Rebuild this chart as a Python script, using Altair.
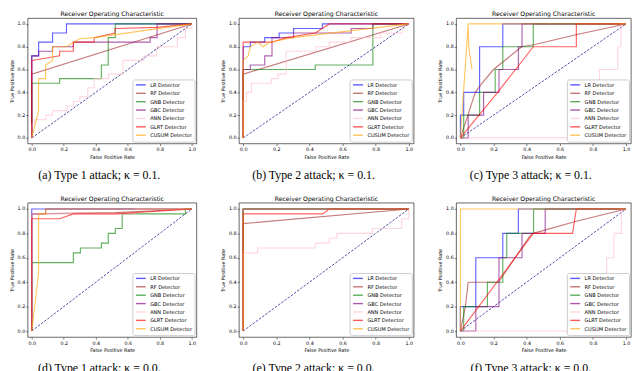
import altair as alt
import pandas as pd

DETECTORS = ["LR Detector", "RF Detector", "GNB Detector", "GBC Detector",
             "ANN Detector", "GLRT Detector", "CUSUM Detector"]
COLORS = ["blue", "brown", "green", "purple", "pink", "red", "orange"]
TICKS = [0.0, 0.2, 0.4, 0.6, 0.8, 1.0]
TITLE = "Receiver Operating Characteristic"
CAPTIONS = ["(a) Type 1 attack; κ = 0.1.", "(b) Type 2 attack; κ = 0.1.",
            "(c) Type 3 attack; κ = 0.1.", "(d) Type 1 attack; κ = 0.0.",
            "(e) Type 2 attack; κ = 0.0.", "(f) Type 3 attack; κ = 0.0."]
DIAG_X = [0.0, 1.0]
DIAG_Y = [0.0, 1.0]

PANEL_A = {
    "LR Detector": ([0, 0, 0.043, 0.043, 0.13, 0.13, 0.217, 0.217, 1],
                    [0, 0.72, 0.72, 0.84, 0.84, 0.92, 0.92, 1, 1]),
    "RF Detector": ([0, 0, 1], [0, 0.56, 1]),
    "GNB Detector": ([0, 0, 0.174, 0.174, 0.435, 0.435, 0.478, 0.478, 0.522, 0.522, 1],
                     [0, 0.48, 0.48, 0.52, 0.52, 0.64, 0.64, 0.88, 0.88, 1, 1]),
    "GBC Detector": ([0, 0, 0.043, 0.043, 0.13, 0.13, 0.26, 0.26, 0.74, 0.74, 0.783, 0.783, 1],
                     [0, 0.72, 0.72, 0.76, 0.76, 0.8, 0.8, 0.84, 0.84, 0.88, 0.88, 1, 1]),
    "ANN Detector": ([0, 0, 0.02, 0.02, 0.09, 0.09, 0.13, 0.13, 0.22, 0.22, 0.26, 0.26, 0.3, 0.3,
                      0.35, 0.35, 0.39, 0.39, 0.48, 0.48, 0.57, 0.57, 0.7, 0.7, 0.78, 0.78,
                      0.91, 0.91, 0.96, 0.96, 1, 1],
                     [0, 0.12, 0.12, 0.16, 0.16, 0.2, 0.2, 0.24, 0.24, 0.28, 0.28, 0.32, 0.32, 0.36,
                      0.36, 0.44, 0.44, 0.52, 0.52, 0.56, 0.56, 0.68, 0.68, 0.72, 0.72, 0.8,
                      0.8, 0.88, 0.88, 0.96, 0.96, 1]),
    "GLRT Detector": ([0, 0, 0.13, 0.174, 0.174, 0.26, 0.26, 0.39, 0.39, 0.52, 0.52, 0.78, 1],
                      [0, 0.68, 0.71, 0.72, 0.76, 0.76, 0.84, 0.84, 0.88, 0.92, 0.96, 0.97, 1]),
    "CUSUM Detector": ([0, 0.043, 0.043, 0.087, 0.087, 0.13, 0.13, 0.217, 0.26, 0.3, 0.39, 1],
                       [0, 0.24, 0.52, 0.52, 0.64, 0.68, 0.8, 0.8, 0.84, 0.87, 0.88, 1]),
}

PANEL_B = {
    "LR Detector": ([0, 0, 0.043, 0.043, 0.13, 0.13, 0.217, 0.217, 0.304, 0.304, 0.478, 0.478, 1],
                    [0, 0.8, 0.8, 0.84, 0.84, 0.88, 0.88, 0.92, 0.92, 0.96, 0.96, 1, 1]),
    "RF Detector": ([0, 0, 1], [0, 0.56, 1]),
    "GNB Detector": ([0, 0, 0.435, 0.435, 0.783, 0.783, 1],
                     [0, 0.6, 0.6, 0.64, 0.64, 1, 1]),
    "GBC Detector": ([0, 0, 0.043, 0.043, 0.13, 0.13, 0.174, 0.174, 0.304, 0.304, 0.652, 0.652,
                      0.783, 0.783, 1],
                     [0, 0.6, 0.6, 0.64, 0.64, 0.72, 0.72, 0.88, 0.88, 0.92, 0.92, 0.96,
                      0.96, 1, 1]),
    "ANN Detector": ([0, 0, 0.02, 0.02, 0.05, 0.05, 0.17, 0.17, 0.21, 0.21, 0.26, 0.26, 0.44,
                      0.44, 0.52, 0.52, 0.65, 0.65, 0.83, 0.83, 0.96, 0.96, 1],
                     [0, 0.32, 0.32, 0.4, 0.4, 0.48, 0.48, 0.52, 0.52, 0.56, 0.56, 0.76, 0.76,
                      0.8, 0.8, 0.84, 0.84, 0.88, 0.88, 0.92, 0.92, 1, 1]),
    "GLRT Detector": ([0, 0, 0.174, 0.26, 0.435, 0.52, 1],
                      [0, 0.84, 0.84, 0.88, 0.92, 1, 1]),
    "CUSUM Detector": ([0, 0, 0.03, 0.043, 0.087, 0.12, 0.16, 0.3, 1],
                       [0, 0.68, 0.72, 0.8, 0.84, 0.8, 0.84, 0.88, 1]),
}

PANEL_C = {
    "LR Detector": ([0, 0, 0.02, 0.02, 0.116, 0.116, 0.256, 0.256, 1],
                    [0, 0.2, 0.2, 0.4, 0.4, 0.8, 0.8, 1, 1]),
    "RF Detector": ([0, 0.045, 0.09, 0.125, 0.2, 0.37, 0.45, 0.71, 1],
                    [0, 0.2, 0.4, 0.47, 0.6, 0.8, 0.82, 0.91, 1]),
    "GNB Detector": ([0, 0.02, 0.02, 0.116, 0.116, 0.21, 0.21, 0.256, 0.256, 0.44, 0.44, 1],
                     [0, 0, 0.2, 0.2, 0.4, 0.4, 0.6, 0.6, 0.8, 0.8, 1, 1]),
    "GBC Detector": ([0, 0.047, 0.047, 0.14, 0.14, 0.233, 0.233, 0.35, 0.35, 0.372, 0.372, 1],
                     [0, 0, 0.2, 0.2, 0.4, 0.4, 0.6, 0.6, 0.8, 0.8, 1, 1]),
    "ANN Detector": ([0, 0.84, 0.84, 0.95, 0.95, 0.97, 0.97, 1],
                     [0, 0, 0.6, 0.6, 0.8, 0.8, 1, 1]),
    "GLRT Detector": ([0, 0.225, 0.44, 0.7, 0.7, 1],
                      [0, 0.4, 0.8, 0.8, 1, 1]),
    "CUSUM Detector": ([0, 0.047, 0.05, 0.07, 0.05, 0.047, 1],
                       [0, 1, 0.8, 0.6, 0.8, 1, 1]),
}

PANEL_D = {
    "LR Detector": ([0, 0, 1], [0, 1, 1]),
    "RF Detector": ([0, 0, 0.52, 1], [0, 0.96, 0.97, 1]),
    "GNB Detector": ([0, 0, 0.26, 0.26, 0.304, 0.304, 0.435, 0.435, 0.478, 0.478, 0.522, 0.522,
                      0.565, 0.565, 0.96, 0.96, 1],
                     [0, 0.56, 0.56, 0.64, 0.64, 0.68, 0.68, 0.72, 0.72, 0.8, 0.8, 0.84,
                      0.84, 0.96, 0.96, 1, 1]),
    "GBC Detector": ([0, 0, 0.087, 0.087, 1], [0, 0.96, 0.96, 1, 1]),
    "ANN Detector": ([0, 0, 0.65, 0.65, 1], [0, 0.96, 0.96, 1, 1]),
    "GLRT Detector": ([0, 0, 0.174, 0.26, 0.52, 1], [0, 0.92, 0.92, 0.96, 0.96, 1]),
    "CUSUM Detector": ([0, 0.043, 0.043, 0.087, 0.087, 1], [0, 0.48, 0.96, 0.96, 1, 1]),
}

PANEL_E = {
    "LR Detector": ([0, 0, 1], [0, 1, 1]),
    "RF Detector": ([0, 0, 1], [0, 0.88, 1]),
    "GNB Detector": ([0, 0, 1], [0, 1, 1]),
    "GBC Detector": ([0, 0, 1], [0, 1, 1]),
    "ANN Detector": ([0, 0, 0.087, 0.087, 0.435, 0.435, 0.52, 0.52, 0.565, 0.565, 0.78, 0.78,
                      0.957, 0.957, 1, 1],
                     [0, 0.64, 0.64, 0.68, 0.68, 0.72, 0.72, 0.76, 0.76, 0.8, 0.8, 0.84,
                      0.84, 0.92, 0.92, 1]),
    "GLRT Detector": ([0, 0, 0.48, 0.52, 1], [0, 0.96, 0.96, 1, 1]),
    "CUSUM Detector": ([0, 0, 1], [0, 1, 1]),
}

PANEL_F = {
    "LR Detector": ([0, 0, 0.093, 0.093, 0.256, 0.256, 0.35, 0.35, 1],
                    [0, 0.2, 0.2, 0.6, 0.6, 0.8, 0.8, 1, 1]),
    "RF Detector": ([0, 0.03, 0.047, 0.23, 0.42, 0.44, 0.7, 1],
                    [0, 0.2, 0.4, 0.4, 0.78, 0.8, 0.9, 1]),
    "GNB Detector": ([0, 0.02, 0.02, 0.163, 0.163, 0.256, 0.256, 0.28, 0.28, 0.442, 0.442, 1],
                     [0, 0, 0.2, 0.2, 0.4, 0.4, 0.6, 0.6, 0.8, 0.8, 1, 1]),
    "GBC Detector": ([0, 0.093, 0.093, 0.233, 0.233, 0.372, 0.372, 0.512, 0.512, 1],
                     [0, 0, 0.2, 0.2, 0.6, 0.6, 0.8, 0.8, 1, 1]),
    "ANN Detector": ([0, 0.883, 0.883, 0.927, 0.927, 0.972, 0.972, 1],
                     [0, 0, 0.6, 0.6, 0.8, 0.8, 1, 1]),
    "GLRT Detector": ([0, 0.44, 0.677, 0.7, 1], [0, 0.8, 0.8, 1, 1]),
    "CUSUM Detector": ([0, 0, 1], [0, 1, 1]),
}

FONT = "DejaVu Sans"


def panel(curves, caption, w, h):
    rows = []
    for det in DETECTORS:
        xs, ys = curves[det]
        for i, (x, y) in enumerate(zip(xs, ys)):
            rows.append({"det": det, "fpr": x, "tpr": y, "i": i})
    df = pd.DataFrame(rows)
    xsc = alt.Scale(domain=[-0.025, 1.03], nice=False, zero=False)
    ysc = alt.Scale(domain=[-0.05, 1.05], nice=False, zero=False)
    xax = alt.Axis(title="False Positive Rate", values=TICKS, format=".1f")
    yax = alt.Axis(title="True Positive Rate", values=TICKS, format=".1f")
    xenc = alt.X("fpr:Q", scale=xsc, axis=xax)
    yenc = alt.Y("tpr:Q", scale=ysc, axis=yax)
    diag = alt.Chart(pd.DataFrame({"fpr": DIAG_X, "tpr": DIAG_Y})).mark_line(
        color="navy", strokeDash=[2.5, 1.5], strokeWidth=0.7).encode(x=xenc, y=yenc)
    legend = alt.Legend(
        title=None, orient="bottom-right", offset=2, padding=2.5,
        symbolType="stroke", symbolSize=100, symbolStrokeWidth=1.4,
        symbolOpacity=0.65, labelFontSize=5.1, labelFont=FONT, labelColor="black",
        labelOffset=3.5, rowPadding=1.5, clipHeight=6, fillColor="white",
        strokeColor="#cccccc", cornerRadius=2)
    layers = [diag]
    for det in DETECTORS:
        layers.append(
            alt.Chart(df).transform_filter(alt.datum.det == det).mark_line(
                strokeWidth=1.15, opacity=0.62).encode(
                x=xenc, y=yenc,
                color=alt.Color("det:N", scale=alt.Scale(domain=DETECTORS, range=COLORS),
                                legend=legend),
                order="i:Q"))
    cap = alt.Chart(pd.DataFrame({"t": [caption]})).mark_text(
        font="Liberation Serif", fontSize=12, align="center", baseline="middle",
        color="black").encode(x=alt.value(w / 2 - 13), y=alt.value(h + 31.5), text="t:N")
    layers.append(cap)
    return alt.layer(*layers).properties(width=w, height=h, title=TITLE)


W = [171, 177, 177]
H1, H2 = 127, 136

row1 = alt.hconcat(
    panel(PANEL_A, CAPTIONS[0], W[0], H1),
    panel(PANEL_B, CAPTIONS[1], W[1], H1),
    panel(PANEL_C, CAPTIONS[2], W[2], H1),
    spacing=22,
).resolve_scale(color="independent", x="independent", y="independent").resolve_legend(
    color="independent")
row2 = alt.hconcat(
    panel(PANEL_D, CAPTIONS[3], W[0], H2),
    panel(PANEL_E, CAPTIONS[4], W[1], H2),
    panel(PANEL_F, CAPTIONS[5], W[2], H2),
    spacing=22,
).resolve_scale(color="independent", x="independent", y="independent").resolve_legend(
    color="independent")

chart = alt.vconcat(row1, row2, spacing=14).resolve_scale(
    color="independent", x="independent", y="independent").resolve_legend(
    color="independent").properties(
    padding={"left": 0, "top": 0, "right": 0, "bottom": 0}
).configure_view(stroke="black", strokeWidth=0.6).configure_axis(
    grid=False, domain=False, ticks=True, tickColor="black", tickWidth=0.5, tickSize=2,
    labelFont=FONT, labelFontSize=4.9, labelColor="black", labelPadding=1,
    titleFont=FONT, titleFontSize=4.9, titleFontWeight="normal", titleColor="black",
    titlePadding=3
).configure_title(font=FONT, fontSize=6.2, fontWeight="normal", color="black", offset=1)

chart.save("out.html", embed_options={"renderer": "svg", "actions": False})
